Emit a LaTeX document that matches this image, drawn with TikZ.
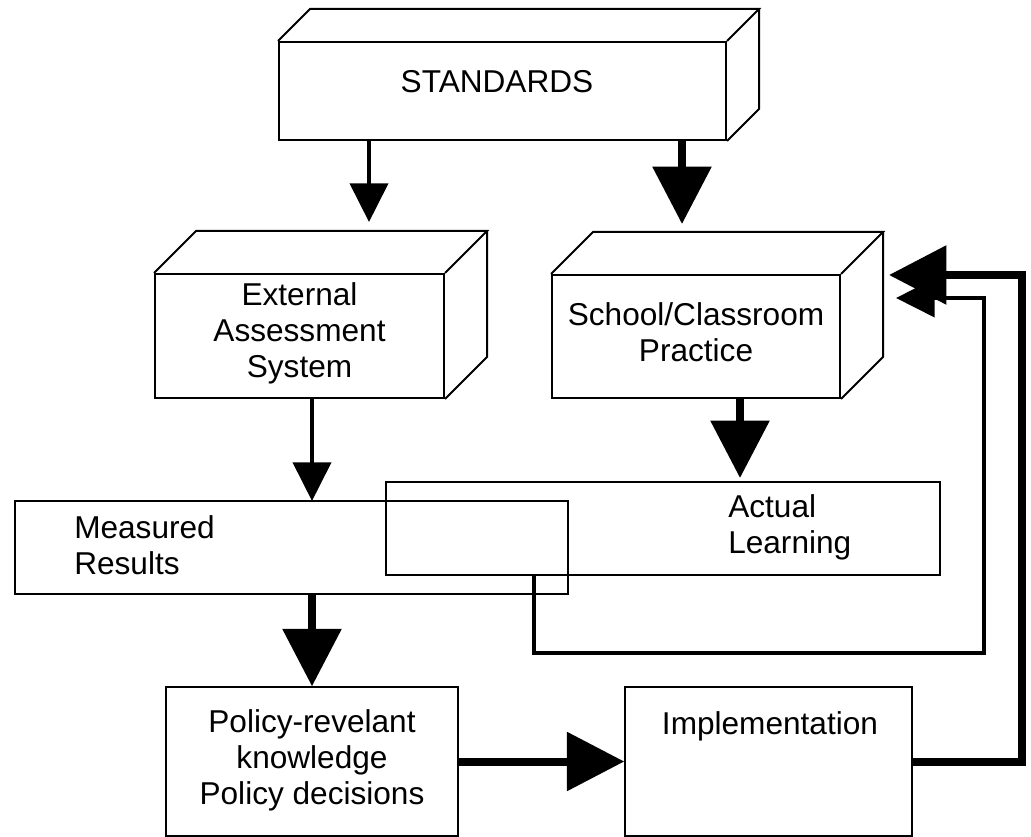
\documentclass[tikz,border=0pt]{standalone}
\usepackage{fontspec}
\setmainfont{Liberation Sans}
\usetikzlibrary{arrows.meta,calc}
\begin{document}
\begin{tikzpicture}[x=0.75pt,y=-0.75pt]
	\tikzstyle{front} = [rectangle,draw,line width=1.5pt,inner sep=0pt]
	\tikzstyle{flat} = [rectangle,draw,line width=1.1pt,inner sep=0pt]
	\tikzstyle{lbl} = [inner sep=0pt,align=center,font=\fontsize{23.7pt}{27pt}\selectfont]
	\tikzstyle{slimarrow} = [line width=3pt,-{Triangle[length=29pt,width=28.5pt]}]
	\tikzstyle{fatarrow} = [line width=6pt,-{Triangle[length=43pt,width=43pt]}]
	
	\useasboundingbox (0,0) rectangle (1031,837);
	
	% boxes
	\node[front,minimum width=335.25pt,minimum height=73.5pt] (std) at (502.5,91){};
	\node[front,minimum width=216.75pt,minimum height=93pt] (eas) at (299.5,336){};
	\node[front,minimum width=216pt,minimum height=92.25pt] (scp) at (696,336.5){};
	\node[flat,minimum width=414.75pt,minimum height=69.75pt] (mr) at (291.5,547.5){};
	\node[flat,minimum width=415.5pt,minimum height=69.75pt] (al) at (663,528.5){};
	\node[flat,minimum width=219pt,minimum height=111.75pt] (prk) at (312,761.5){};
	\node[flat,minimum width=215.25pt,minimum height=111.75pt] (impl) at (768.5,761.5){};
	
	% top and side faces
	\foreach \b/\d in {std/32,eas/42,scp/42}{
		\draw[line width=1.5pt] (\b.north west) -- ++(\d,-\d) -- ($(\b.north east)+(\d,-\d)$) -- (\b.north east);
		\draw[line width=1.5pt] ($(\b.north east)+(\d,-\d)$) -- ($(\b.south east)+(\d,-\d)$) -- (\b.south east);
	}
	
	% texts
	\node[lbl] (stdlbl) at (497,81.5){STANDARDS};
	\node[lbl] (easlbl) at (299.5,333){External\\Assessment\\System};
	\node[lbl] (scplbl) at (696,332.5){School/Classroom\\Practice};
	\node[lbl,align=left,anchor=west] (mrlbl) at (74,545.5){Measured\\Results};
	\node[lbl,align=left,anchor=west] (allbl) at (728,527.5){Actual\\Learning};
	\node[lbl] (prklbl) at (312,760.5){Policy-revelant\\knowledge\\Policy decisions};
	\node[lbl] (impllbl) at (770,726.5){Implementation};
	
	% arrows
	\draw[slimarrow] ($(std.south west)+(91,0)$) -- ++(0,81);
	\draw[fatarrow] ($(std.south west)+(404,0)$) -- ++(0,83);
	\draw[slimarrow] ($(eas.south)+(12.5,0)$) -- ++(0,102);
	\draw[fatarrow] ($(scp.south)+(44,0)$) -- ++(0,79);
	\draw[fatarrow] (prk.north |- mr.south) -- (prk.north);
	\draw[fatarrow] (prk.east) -- (impl.west);
	\draw[fatarrow] (impl.east) -- ($(impl.east)+(109,0)$) |- ($(scp.north east)+(48,1)$);
	\draw[slimarrow] ($(al.south west)+(149,0)$) -- ++(0,77) -- ++(450,0) |- ($(scp.east)+(55,-38.5)$);
	
\end{tikzpicture}
\end{document}
